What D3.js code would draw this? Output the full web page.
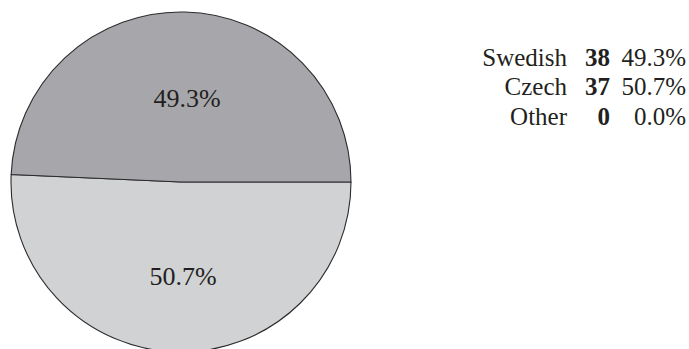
<!DOCTYPE html>
<html>
<head>
<meta charset="utf-8">
<script src="https://cdn.jsdelivr.net/npm/d3@7"></script>
<style>
  html, body { margin: 0; padding: 0; background: #fff; }
  svg { display: block; }
  text { font-family: "Liberation Serif", "Times New Roman", serif; fill: #231f20; }
</style>
</head>
<body>
<svg id="chart" width="689" height="349"></svg>
<script>
// Language groups, their counts and shares (percent)
const categories = ["Swedish", "Czech", "Other"];
const counts = [38, 37, 0];
const shares = [49.3, 50.7, 0.0];
const shareLabels = ["49.3%", "50.7%", "0.0%"];
const sliceColors = ["#a7a7ab", "#d1d2d4", "#ffffff"];

const svg = d3.select("#chart");
const W = 689, H = 349;
const cx = 181, cy = 182, R = 170;

const rows = categories.map((c, i) => ({
  name: c, count: counts[i], share: shares[i], label: shareLabels[i], color: sliceColors[i]
}));

// Pie drawn clockwise from due east: Czech first (lower half), then Swedish
const drawOrder = [1, 0, 2];
const pie = d3.pie()
  .sort(null)
  .value(d => d.share)
  .startAngle(Math.PI / 2)
  .endAngle(Math.PI / 2 + 2 * Math.PI);
const arcs = pie(drawOrder.map(i => rows[i]));

const arc = d3.arc().innerRadius(0).outerRadius(R);
const labelArc = d3.arc().innerRadius(0).outerRadius(R * 1.05);

const g = svg.append("g").attr("transform", `translate(${cx},${cy})`);

g.selectAll("path.slice")
  .data(arcs.filter(a => a.data.share > 0))
  .join("path")
  .attr("class", "slice")
  .attr("d", arc)
  .attr("fill", d => d.data.color)
  .attr("stroke", "#2b2a2c")
  .attr("stroke-width", 1.1)
  .attr("stroke-linejoin", "round");

g.selectAll("text.pct")
  .data(arcs.filter(a => a.data.share > 0))
  .join("text")
  .attr("class", "pct")
  .attr("x", d => labelArc.centroid(d)[0])
  .attr("y", d => labelArc.centroid(d)[1])
  .attr("dx", 4)
  .attr("dy", 14)
  .attr("text-anchor", "middle")
  .attr("font-size", 26)
  .text(d => d.data.label);

// Legend table: name, count (bold), share — each column right-aligned
const legend = svg.append("g").attr("font-size", 25);
const rowY = d3.scalePoint().domain(categories).range([66, 124.5]);

const lrows = legend.selectAll("g.row")
  .data(rows)
  .join("g")
  .attr("class", "row")
  .attr("transform", d => `translate(0,${rowY(d.name)})`);

lrows.append("text")
  .attr("x", 567)
  .attr("text-anchor", "end")
  .text(d => d.name);

lrows.append("text")
  .attr("x", 610)
  .attr("text-anchor", "end")
  .attr("font-weight", "bold")
  .text(d => d.count);

lrows.append("text")
  .attr("x", 686)
  .attr("text-anchor", "end")
  .text(d => d.label);
</script>
</body>
</html>
